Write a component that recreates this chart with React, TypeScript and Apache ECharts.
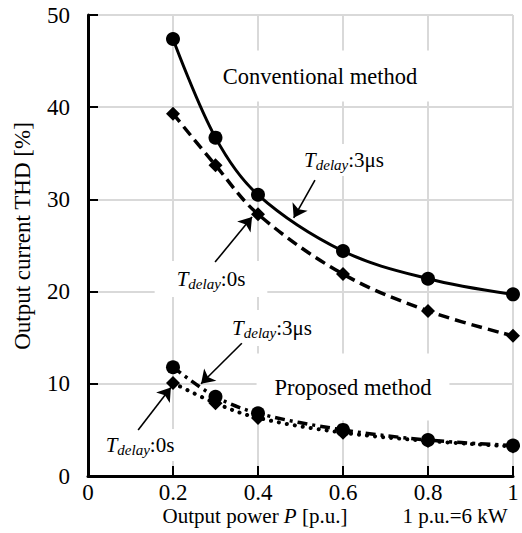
import React, { useEffect, useRef } from "react";
import * as echarts from "echarts";

const xValues = [0.2, 0.3, 0.4, 0.6, 0.8, 1.0];
const conv3us = [47.4, 36.7, 30.5, 24.4, 21.4, 19.7];
const conv0s = [39.3, 33.7, 28.4, 21.9, 17.9, 15.2];
const prop3us = [11.8, 8.6, 6.8, 5.0, 3.9, 3.3];
const prop0s = [10.1, 7.9, 6.3, 4.7, 3.8, 3.2];

const xTicks = [0, 0.2, 0.4, 0.6, 0.8, 1];
const yTicks = [0, 10, 20, 30, 40, 50];

// arrow annotations in data coordinates: [from, to]
const arrows: [number[], number[]][] = [
  [[0.534, 32.1], [0.484, 28.0]],
  [[0.299, 23.2], [0.386, 28.1]],
  [[0.362, 14.4], [0.266, 10.0]],
  [[0.118, 5.0], [0.195, 9.6]],
];

const FONT = "Liberation Serif";

const pair = (ys: number[]) => xValues.map((x, i) => [x, ys[i]]);

const richT = {
  T: { fontFamily: FONT, fontSize: 21, fontStyle: "italic", color: "#000" },
  s: { fontFamily: FONT, fontSize: 15, fontStyle: "italic", color: "#000", padding: [9, 0, 0, 0] },
  n: { fontFamily: FONT, fontSize: 21, color: "#000" },
};

function label(text: string, x: number, y: number, pad: number[], rich = false) {
  return {
    type: "text",
    x,
    y,
    z: 1,
    style: {
      text,
      fontFamily: FONT,
      fontSize: 22.5,
      fill: "#000",
      align: "center",
      verticalAlign: "middle",
      backgroundColor: "#fff",
      padding: pad,
      rich: rich ? richT : undefined,
    },
  };
}

export default function App() {
  const ref = useRef<HTMLDivElement>(null);
  useEffect(() => {
    if (!ref.current) return;
    const chart = echarts.init(ref.current, null, { renderer: "svg" });
    const baseLine = { color: "#000", width: 3 };
    chart.setOption({
      animation: false,
      backgroundColor: "#fff",
      grid: { left: 88, top: 15, width: 425, height: 461 },
      xAxis: {
        type: "value",
        min: 0,
        max: 1,
        interval: 0.2,
        axisLine: { show: true, lineStyle: { color: "#000", width: 3 } },
        axisTick: { show: true, inside: true, length: 10, lineStyle: { color: "#000", width: 2 } },
        axisLabel: {
          color: "#000",
          fontFamily: FONT,
          fontSize: 23,
          margin: 5,
          formatter: (v: number) => {
            const t = xTicks.find((k) => Math.abs(k - v) < 1e-6);
            return t === 0 ? "0" : t === 1 ? "1" : t !== undefined ? t.toFixed(1) : "";
          },
        },
        splitLine: { show: true, lineStyle: { color: "#d9d9d9", width: 2 } },
      },
      yAxis: {
        type: "value",
        min: 0,
        max: 50,
        interval: 10,
        axisLine: { show: true, lineStyle: { color: "#000", width: 3 } },
        axisTick: { show: true, inside: true, length: 10, lineStyle: { color: "#000", width: 2 } },
        axisLabel: {
          color: "#000",
          fontFamily: FONT,
          fontSize: 23,
          margin: 18,
          formatter: (v: number) => (yTicks.includes(v) ? String(v) : ""),
        },
        splitLine: { show: true, lineStyle: { color: "#d9d9d9", width: 2 } },
      },
      series: [
        {
          type: "line",
          name: "Conventional 3us",
          data: pair(conv3us),
          smooth: 0.35,
          symbol: "circle",
          symbolSize: 14,
          itemStyle: { color: "#000" },
          lineStyle: { ...baseLine, type: "solid" },
          z: 3,
          markLine: {
            silent: true,
            symbol: ["none", "arrow"],
            symbolSize: 13,
            label: { show: false },
            lineStyle: { color: "#000", width: 1.6, type: "solid" },
            data: arrows.map(([a, b]) => [{ coord: a }, { coord: b }]),
          },
        },
        {
          type: "line",
          name: "Conventional 0s",
          data: pair(conv0s),
          smooth: 0.35,
          symbol: "diamond",
          symbolSize: 14,
          itemStyle: { color: "#000" },
          lineStyle: { ...baseLine, width: 3.5, type: [11, 6] },
          z: 3,
        },
        {
          type: "line",
          name: "Proposed 3us",
          data: pair(prop3us),
          smooth: 0.35,
          symbol: "circle",
          symbolSize: 14,
          itemStyle: { color: "#000" },
          lineStyle: { ...baseLine, width: 3.5, type: [10, 5, 3, 5] },
          z: 3,
        },
        {
          type: "line",
          name: "Proposed 0s",
          data: pair(prop0s),
          smooth: 0.35,
          symbol: "diamond",
          symbolSize: 14,
          itemStyle: { color: "#000" },
          lineStyle: { ...baseLine, width: 4, type: [0.1, 8], cap: "round" },
          z: 3,
        },
      ],
      graphic: [
        label("Conventional method", 320, 76, [14, 14]),
        label("{T|T}{s|delay}{n|:3μs}", 344, 160, [4, 6], true),
        label("{T|T}{s|delay}{n|:0s}", 211, 279, [6, 22], true),
        label("{T|T}{s|delay}{n|:3μs}", 272, 328, [6, 8], true),
        label("{T|T}{s|delay}{n|:0s}", 140, 445, [4, 4], true),
        label("Proposed method", 353, 387, [22, 18]),
        {
          type: "text",
          x: 255,
          y: 516,
          style: {
            text: "Output power {i|P} [p.u.]",
            fontFamily: FONT,
            fontSize: 21,
            fill: "#000",
            align: "center",
            verticalAlign: "middle",
            rich: { i: { fontFamily: FONT, fontSize: 21, fontStyle: "italic", color: "#000" } },
          },
        },
        {
          type: "text",
          x: 455,
          y: 516,
          style: {
            text: "1 p.u.=6 kW",
            fontFamily: FONT,
            fontSize: 21,
            fill: "#000",
            align: "center",
            verticalAlign: "middle",
          },
        },
        {
          type: "text",
          x: 22,
          y: 236,
          rotation: Math.PI / 2,
          style: {
            text: "Output current THD [%]",
            fontFamily: FONT,
            fontSize: 23,
            fill: "#000",
            align: "center",
            verticalAlign: "middle",
          },
        },
      ],
    });
    return () => chart.dispose();
  }, []);
  return (
    <div
      ref={ref}
      style={{ position: "fixed", left: 0, top: 0, width: 522, height: 533, background: "#fff" }}
    />
  );
}
